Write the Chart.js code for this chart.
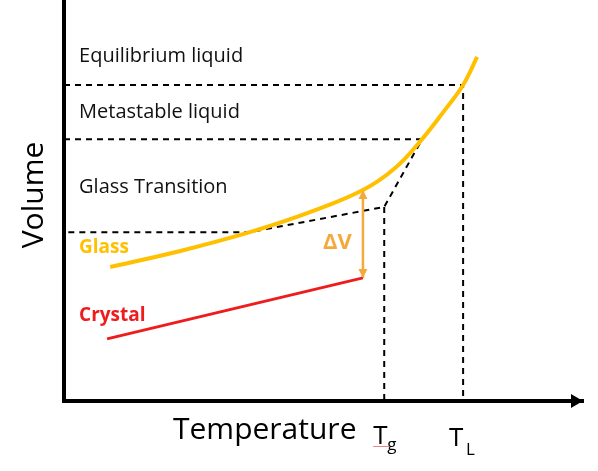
<!DOCTYPE html>
<html>
<head>
<meta charset="utf-8">
<script src="https://cdn.jsdelivr.net/npm/chart.js@4"></script>
<style>
  html, body { margin: 0; padding: 0; background: #fff; }
  canvas { display: block; }
</style>
</head>
<body>
<canvas id="volumeChart" width="598" height="471"></canvas>
<script>
// glass / liquid curve, temperature vs volume (arbitrary units 0-100)
const glassTemp = [8.9, 22.4, 35.8, 47.4, 57.6, 63.8, 69.0, 73.4, 76.9, 79.6];
const glassVol = [33.4, 37.4, 42.1, 47.1, 52.6, 58.1, 65.3, 72.6, 78.8, 85.8];

// crystal line
const crystalTemp = [8.3, 57.6];
const crystalVol = [15.5, 30.7];

// characteristic temperatures
const tg = 61.7;
const tl = 76.9;
const metastableTemp = 69.0;
const glassKneeTemp = 35.8;

// guide volumes
const volLiquidus = 78.8;
const volMetastable = 65.3;
const volAtTg = 48.4;
const volGlass = 42.1;

// delta V arrow
const deltaTemp = 57.6;
const deltaVol = [52.6, 30.7];

const GOLD = '#FFC000';
const RED = '#EE1C1C';
const ORANGE = '#F4A93A';
const FONT = '"Open Sans", sans-serif';

function toPoints(xs, ys) {
    return xs.map((x, i) => ({ x: x, y: ys[i] }));
}

function dashed(points) {
    return {
        data: points,
        showLine: true,
        borderColor: '#000',
        borderWidth: 2,
        borderDash: [6, 5],
        pointRadius: 0,
        fill: false
    };
}

// texts inside the plot, placed by temperature / volume
const regionLabels = [
    { text: 'Equilibrium liquid', t: 2.9, v: 84.5, font: '20px ' + FONT, color: '#111' },
    { text: 'Metastable liquid', t: 2.9, v: 70.6, font: '20px ' + FONT, color: '#111' },
    { text: 'Glass Transition', t: 2.9, v: 51.9, font: '20px ' + FONT, color: '#111' },
    { text: 'Glass', t: 2.9, v: 36.9, font: 'bold 19px ' + FONT, color: GOLD },
    { text: 'Crystal', t: 2.9, v: 20.0, font: 'bold 19px ' + FONT, color: RED },
    { text: '\u0394V', t: 49.9, v: 37.9, font: 'bold 22px ' + FONT, color: ORANGE }
];

const diagramText = {
    id: 'diagramText',
    afterDatasetsDraw(chart) {
        const ctx = chart.ctx;
        // arrow heads on the delta V line
        const meta = chart.getDatasetMeta(2);
        const top = meta.data[0];
        const bottom = meta.data[1];
        ctx.save();
        ctx.fillStyle = ORANGE;
        ctx.beginPath();
        ctx.moveTo(top.x, top.y);
        ctx.lineTo(top.x - 4.5, top.y + 9);
        ctx.lineTo(top.x + 4.5, top.y + 9);
        ctx.closePath();
        ctx.fill();
        ctx.beginPath();
        ctx.moveTo(bottom.x, bottom.y);
        ctx.lineTo(bottom.x - 4.5, bottom.y - 9);
        ctx.lineTo(bottom.x + 4.5, bottom.y - 9);
        ctx.closePath();
        ctx.fill();
        ctx.restore();
    },
    afterDraw(chart) {
        const { ctx, chartArea, scales: { x, y } } = chart;
        ctx.save();

        // arrow head at the end of the temperature axis
        ctx.fillStyle = '#000';
        ctx.beginPath();
        ctx.moveTo(chartArea.right, chartArea.bottom);
        ctx.lineTo(chartArea.right - 12, chartArea.bottom - 7);
        ctx.lineTo(chartArea.right - 12, chartArea.bottom + 7);
        ctx.closePath();
        ctx.fill();

        ctx.textBaseline = 'alphabetic';
        ctx.textAlign = 'left';
        regionLabels.forEach(l => {
            ctx.font = l.font;
            ctx.fillStyle = l.color;
            ctx.fillText(l.text, x.getPixelForValue(l.t), y.getPixelForValue(l.v));
        });

        // axis titles
        ctx.fillStyle = '#000';
        ctx.font = '30px ' + FONT;
        ctx.fillText('Temperature', 173, 439);

        ctx.save();
        ctx.translate(43, 195);
        ctx.rotate(-Math.PI / 2);
        ctx.textAlign = 'center';
        ctx.fillText('Volume', 0, 0);
        ctx.restore();

        // T_g and T_L
        const xg = x.getPixelForValue(tg);
        const xl = x.getPixelForValue(tl);
        ctx.font = '26px ' + FONT;
        ctx.fillText('T', xg - 11, 444);
        ctx.fillText('T', xl - 14, 446);
        ctx.font = '17px ' + FONT;
        ctx.fillText('g', xg + 3, 450);
        ctx.fillText('L', xl + 3, 455);

        // spell-check squiggle under T_g
        ctx.strokeStyle = 'rgba(220, 60, 60, 0.7)';
        ctx.lineWidth = 1;
        ctx.beginPath();
        for (let i = 0; i <= 16; i++) {
            const px = xg - 11 + i;
            const py = 446 + (i % 2 ? 1 : 0);
            if (i === 0) ctx.moveTo(px, py); else ctx.lineTo(px, py);
        }
        ctx.stroke();

        ctx.restore();
    }
};

new Chart(document.getElementById('volumeChart'), {
    type: 'scatter',
    data: {
        datasets: [
            {
                data: toPoints(glassTemp, glassVol),
                showLine: true,
                borderColor: GOLD,
                borderWidth: 4,
                tension: 0.4,
                pointRadius: 0
            },
            {
                data: toPoints(crystalTemp, crystalVol),
                showLine: true,
                borderColor: RED,
                borderWidth: 3,
                pointRadius: 0
            },
            {
                data: toPoints([deltaTemp, deltaTemp], deltaVol),
                showLine: true,
                borderColor: ORANGE,
                borderWidth: 2.5,
                pointRadius: 0
            },
            dashed(toPoints([0, tl, tl], [volLiquidus, volLiquidus, 0])),
            dashed(toPoints([0, metastableTemp, tg, glassKneeTemp, 0],
                [volMetastable, volMetastable, volAtTg, volGlass, volGlass])),
            dashed(toPoints([tg, tg], [volAtTg, 0]))
        ]
    },
    options: {
        responsive: false,
        animation: false,
        devicePixelRatio: 1,
        layout: { padding: { left: 0, right: 15, top: 0, bottom: 0 } },
        plugins: {
            legend: { display: false },
            tooltip: { enabled: false }
        },
        scales: {
            x: {
                type: 'linear',
                min: 0,
                max: 100,
                ticks: { display: false },
                grid: { display: false },
                border: { display: true, color: '#000', width: 4 },
                afterFit: scale => { scale.height = 70; }
            },
            y: {
                type: 'linear',
                min: 0,
                max: 100,
                ticks: { display: false },
                grid: { display: false },
                border: { display: true, color: '#000', width: 4 },
                afterFit: scale => { scale.width = 64; }
            }
        }
    },
    plugins: [diagramText]
});
</script>
</body>
</html>
